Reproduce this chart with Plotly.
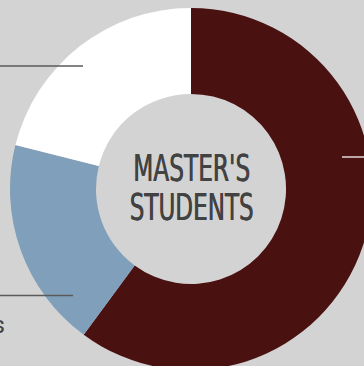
import plotly.graph_objects as go

# Data
categories = ["Full-time", "Part-time", "Other"]
values = [60.1, 18.8, 21.1]
colors = ["#4a1111", "#7f9fba", "#ffffff"]
center_label = "MASTER'S<br>STUDENTS"
side_label = "Part-time students"

W, H = 382, 380
BG = "#d3d3d3"

def px(x):
    return x / W

def py(y):
    return 1 - y / H

fig = go.Figure(go.Pie(
    labels=categories,
    values=values,
    marker=dict(colors=colors, line=dict(width=0)),
    hole=0.525,
    sort=False,
    direction="clockwise",
    rotation=0,
    textinfo="none",
    hoverinfo="label+percent",
    showlegend=False,
    domain=dict(x=[px(10), px(372)], y=[py(370), py(8)]),
))

shapes = [
    dict(type="line", xref="paper", yref="paper", x0=px(-5), x1=px(83), y0=py(66), y1=py(66),
         line=dict(color="#5a5a5a", width=1.5)),
    dict(type="line", xref="paper", yref="paper", x0=px(-5), x1=px(73), y0=py(295.5), y1=py(295.5),
         line=dict(color="#5a5a5a", width=1.5)),
    dict(type="line", xref="paper", yref="paper", x0=px(342), x1=px(390), y0=py(157), y1=py(157),
         line=dict(color="#e6d8d8", width=1.5)),
]

center_font = dict(family="DejaVu Sans Condensed, DejaVu Sans, sans-serif", size=37,
                   color="#424242", shadow="0.8px 0 0 #424242")
annotations = [
    dict(text=center_label, xref="paper", yref="paper", x=px(191.75), y=py(192),
         showarrow=False, xanchor="center", yanchor="middle", font=center_font),
    dict(text=side_label, xref="paper", yref="paper", x=px(7), y=py(325),
         showarrow=False, xanchor="right", yanchor="middle",
         font=dict(family="Roboto, sans-serif", size=24, color="#404040")),
]

fig.update_layout(
    width=W, height=H,
    autosize=False,
    margin=dict(l=0, r=0, t=0, b=0),
    paper_bgcolor=BG,
    plot_bgcolor=BG,
    shapes=shapes,
    annotations=annotations,
)

post = """
document.body.style.margin='0';
document.body.style.overflow='hidden';
document.documentElement.style.overflow='hidden';
document.body.style.background='#d3d3d3';
var widths = {"MASTER'S": 117, "STUDENTS": 124};
document.querySelectorAll('text.annotation-text').forEach(function(t){
  var lines = t.querySelectorAll('tspan.line');
  if (lines.length === 2 && widths[lines[0].textContent]) {
    var b0 = lines[0].getStartPositionOfChar(0).y;
    lines[1].setAttribute('dy', '0');
    lines[1].setAttribute('y', String(b0 + 39));
    lines.forEach(function(l){
      var w = widths[l.textContent];
      if (w) {
        l.setAttribute('textLength', String(w));
        l.setAttribute('lengthAdjust', 'spacingAndGlyphs');
      }
    });
  }
});
"""

fig.write_html("out.html", post_script=post)
